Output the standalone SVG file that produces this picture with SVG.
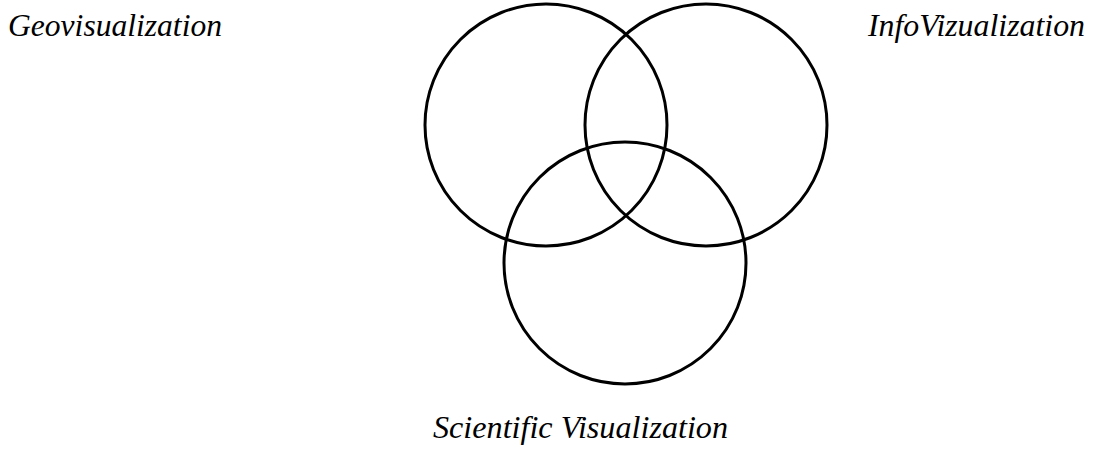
<svg xmlns="http://www.w3.org/2000/svg" width="1095" height="449" viewBox="0 0 1095 449">
<style>
.c{fill:none;stroke:#000;stroke-width:3}
.t{font-family:'Liberation Serif','Times New Roman',serif;font-style:italic;font-size:31px;fill:#000}
</style>
<rect width="1095" height="449" fill="#fff"/>
<g id="geo"><circle class="c" cx="546" cy="125" r="121"/><text class="t" x="8" y="36" textLength="214" lengthAdjust="spacingAndGlyphs">Geovisualization</text></g>
<g id="info"><circle class="c" cx="706" cy="125" r="121"/><text class="t" x="868" y="36" textLength="217" lengthAdjust="spacingAndGlyphs">InfoVizualization</text></g>
<g id="sci"><circle class="c" cx="625" cy="263" r="121"/><text class="t" x="433" y="438" textLength="295" lengthAdjust="spacingAndGlyphs">Scientific Visualization</text></g>
<g id="connectors"/>
</svg>
